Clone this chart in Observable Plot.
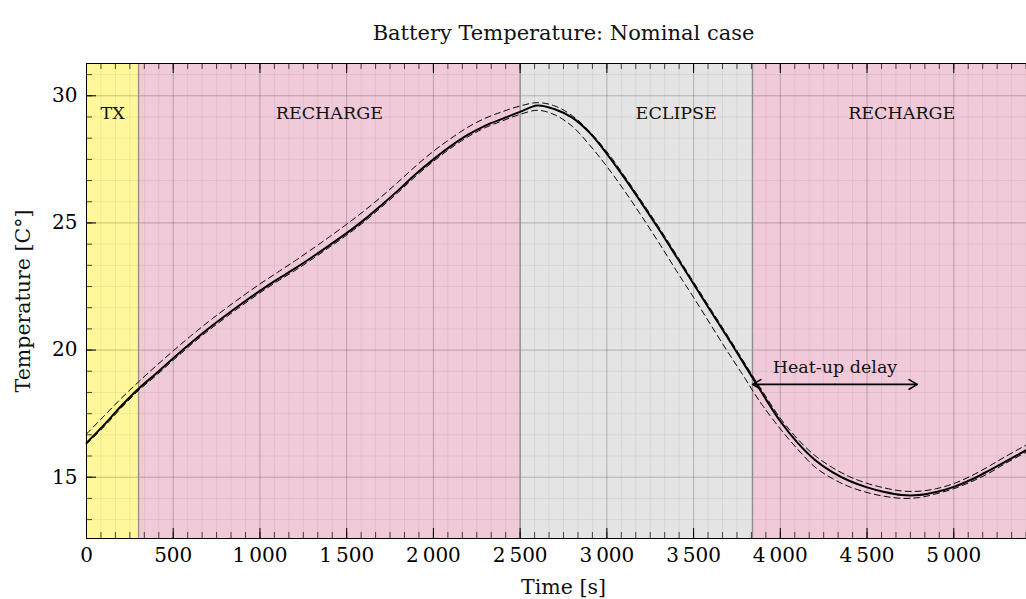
<!DOCTYPE html>
<html>
<head>
<meta charset="utf-8">
<script src="https://cdn.jsdelivr.net/npm/d3@7"></script>
<script src="https://cdn.jsdelivr.net/npm/@observablehq/plot@0.6"></script>
<style>
  html, body { margin: 0; padding: 0; background: #fff; overflow: hidden; }
  #chart svg { display: block; max-width: none !important; }
</style>
</head>
<body>
<div id="chart"></div>
<script>
// Simulation time [s]
const time = [0, 100, 200, 300, 400, 500, 600, 700, 800, 900,
  1000, 1100, 1200, 1300, 1400, 1500, 1600, 1700, 1800, 1900,
  2000, 2100, 2200, 2300, 2400, 2500, 2600, 2700, 2800, 2900,
  3000, 3100, 3200, 3300, 3400, 3500, 3600, 3700, 3800, 3850,
  3900, 4000, 4100, 4200, 4300, 4400, 4500, 4600, 4700, 4800,
  4900, 5000, 5100, 5200, 5300, 5440];

// Battery temperature [°C], nominal run
const nominal = [16.35, 17.05, 17.8, 18.48, 19.07, 19.68, 20.27, 20.83, 21.35, 21.85,
  22.33, 22.78, 23.2, 23.65, 24.12, 24.6, 25.12, 25.7, 26.3, 26.93,
  27.5, 28.02, 28.47, 28.83, 29.1, 29.37, 29.62, 29.47, 29.14, 28.55,
  27.72, 26.78, 25.78, 24.75, 23.68, 22.6, 21.52, 20.45, 19.35, 18.8,
  18.25, 17.2, 16.35, 15.68, 15.2, 14.85, 14.6, 14.42, 14.3, 14.3,
  14.42, 14.62, 14.9, 15.25, 15.62, 16.15];

// Upper and lower bounds (dashed)
const upperBound = [16.7, 17.4, 18.1, 18.75, 19.37, 19.97, 20.55, 21.1, 21.62, 22.12,
  22.6, 23.05, 23.5, 23.97, 24.45, 24.95, 25.47, 26.03, 26.63, 27.25,
  27.82, 28.32, 28.77, 29.12, 29.38, 29.6, 29.73, 29.6, 29.22, 28.6,
  27.8, 26.86, 25.86, 24.83, 23.76, 22.68, 21.6, 20.53, 19.43, 18.88,
  18.35, 17.32, 16.5, 15.85, 15.38, 15.02, 14.76, 14.58, 14.46, 14.45,
  14.55, 14.75, 15.05, 15.42, 15.82, 16.35];

const lowerBound = [16.3, 16.98, 17.72, 18.41, 18.99, 19.6, 20.19, 20.75, 21.27, 21.77,
  22.25, 22.7, 23.12, 23.57, 24.04, 24.52, 25.04, 25.62, 26.22, 26.85,
  27.42, 27.94, 28.39, 28.75, 29.02, 29.27, 29.43, 29.25, 28.8, 28.07,
  27.22, 26.28, 25.27, 24.22, 23.13, 22.07, 20.98, 19.9, 18.85, 18.3,
  17.8, 16.9, 16.1, 15.4, 14.95, 14.62, 14.4, 14.25, 14.17, 14.2,
  14.35, 14.55, 14.82, 15.15, 15.55, 16.07];

// Orbit phases
const phaseNames = ["TX", "RECHARGE", "ECLIPSE", "RECHARGE"];
const phaseStart = [0, 300, 2500, 3840];
const phaseEnd = [300, 2500, 3840, 5500];
const phaseColors = ["#fff799", "#f0cad8", "#e4e4e4", "#f0cad8"];
const phaseLabelAt = [150, 1400, 3400, 4700];

// Axes
const xDomain = [0, 5500];
const yDomain = [12.59, 31.27];
const xTicks = [0, 500, 1000, 1500, 2000, 2500, 3000, 3500, 4000, 4500, 5000];
const xTickLabels = ["0", "500", "1\u2009000", "1\u2009500", "2\u2009000", "2\u2009500",
  "3\u2009000", "3\u2009500", "4\u2009000", "4\u2009500", "5\u2009000"];
const yTicks = [15, 20, 25, 30];
const yTickLabels = ["15", "20", "25", "30"];

// Heat-up delay annotation
const delayStart = 3840;
const delayEnd = 4790;
const delayTemp = 18.65;

const rows = time.map((t, i) => ({t, nominal: nominal[i], upper: upperBound[i], lower: lowerBound[i]}));
const phases = phaseNames.map((name, i) => ({
  name, start: phaseStart[i], end: phaseEnd[i], color: phaseColors[i], labelAt: phaseLabelAt[i]
}));
const xLabel = new Map(xTicks.map((d, i) => [d, xTickLabels[i]]));
const yLabel = new Map(yTicks.map((d, i) => [d, yTickLabels[i]]));

// minor grid: five minor ticks between majors
const minorX = d3.range(0, xDomain[1] + 1e-6, 500 / 6);
const minorY = d3.range(15 - 3 * 5 / 6, yDomain[1], 5 / 6).filter(v => v >= yDomain[0]);

const W = 1040, H = 599, ML = 86, MR = 0, MT = 63, MB = 61;
const frameW = W - ML - MR, frameH = H - MT - MB;
const delayMid = (delayStart + delayEnd) / 2;
const yMid = (yDomain[0] + yDomain[1]) / 2;

const serif = "'DejaVu Serif', 'Liberation Serif', serif";

const chart = Plot.plot({
  width: W,
  height: H,
  marginLeft: ML,
  marginRight: MR,
  marginTop: MT,
  marginBottom: MB,
  x: {domain: xDomain},
  y: {domain: yDomain},
  color: {type: "identity"},
  style: {fontFamily: serif, background: "white", color: "black", maxWidth: "none", overflow: "visible"},
  marks: [
    // phase backgrounds
    Plot.barX(phases, {x1: "start", x2: "end", fill: "color"}),
    // grid
    Plot.ruleX(minorX, {stroke: "#000", strokeOpacity: 0.06}),
    Plot.ruleY(minorY, {stroke: "#000", strokeOpacity: 0.06}),
    Plot.ruleX(xTicks, {stroke: "#000", strokeOpacity: 0.17}),
    Plot.ruleY(yTicks, {stroke: "#000", strokeOpacity: 0.17}),
    // phase boundaries
    Plot.ruleX(phaseStart.slice(1), {stroke: "#8f8f8f", strokeWidth: 1.3}),
    // temperature curves
    Plot.line(rows, {x: "t", y: "upper", stroke: "black", strokeWidth: 1, strokeDasharray: "6,4", curve: "catmull-rom"}),
    Plot.line(rows, {x: "t", y: "lower", stroke: "black", strokeWidth: 1, strokeDasharray: "6,4", curve: "catmull-rom"}),
    Plot.line(rows, {x: "t", y: "nominal", stroke: "black", strokeWidth: 2, curve: "catmull-rom"}),
    // heat-up delay arrow (double headed)
    Plot.arrow([{a: delayMid, b: delayStart}, {a: delayMid, b: delayEnd}], {
      x1: "a", x2: "b", y1: () => delayTemp, y2: () => delayTemp,
      stroke: "black", strokeWidth: 1.6, headLength: 9
    }),
    Plot.text(["Heat-up delay"], {
      x: () => delayMid, y: () => delayTemp, lineAnchor: "bottom", dy: -11,
      fontSize: 17.5, fill: "#111"
    }),
    // phase labels
    Plot.text(phases, {
      x: "labelAt", text: "name", frameAnchor: "top", lineAnchor: "bottom", dy: 55,
      fontSize: 17.5, fill: "#111"
    }),
    // frame
    Plot.frame({stroke: "black", strokeWidth: 1}),
    // inward ticks: bottom, top, left
    Plot.tickX(minorX, {x: d => d, insetTop: frameH - 6, stroke: "black", strokeOpacity: 0.7}),
    Plot.tickX(minorX, {x: d => d, insetBottom: frameH - 6, stroke: "black", strokeOpacity: 0.7}),
    Plot.tickX(xTicks, {x: d => d, insetTop: frameH - 10, stroke: "black"}),
    Plot.tickX(xTicks, {x: d => d, insetBottom: frameH - 10, stroke: "black"}),
    Plot.tickY(minorY, {y: d => d, insetRight: frameW - 6, stroke: "black", strokeOpacity: 0.7}),
    Plot.tickY(yTicks, {y: d => d, insetRight: frameW - 10, stroke: "black"}),
    // tick labels
    Plot.axisX(xTicks, {tickSize: 0, tickPadding: 9, tickFormat: d => xLabel.get(d), fontSize: 20, label: null}),
    Plot.axisY(yTicks, {tickSize: 0, tickPadding: 9, tickFormat: d => yLabel.get(d), fontSize: 20, label: null}),
    // axis titles and chart title
    Plot.text(["Time [s]"], {frameAnchor: "bottom", lineAnchor: "bottom", dy: 55, fontSize: 20.5, fill: "#111"}),
    Plot.text(["Temperature [C°]"], {
      y: () => yMid, frameAnchor: "left", textAnchor: "middle", lineAnchor: "middle",
      dx: -63, rotate: -90, fontSize: 20.5, fill: "#111"
    }),
    Plot.text(["Battery Temperature: Nominal case"], {frameAnchor: "top", lineAnchor: "bottom", dy: -24, fontSize: 21, fill: "#111"})
  ]
});

document.getElementById("chart").append(chart);
</script>
</body>
</html>
